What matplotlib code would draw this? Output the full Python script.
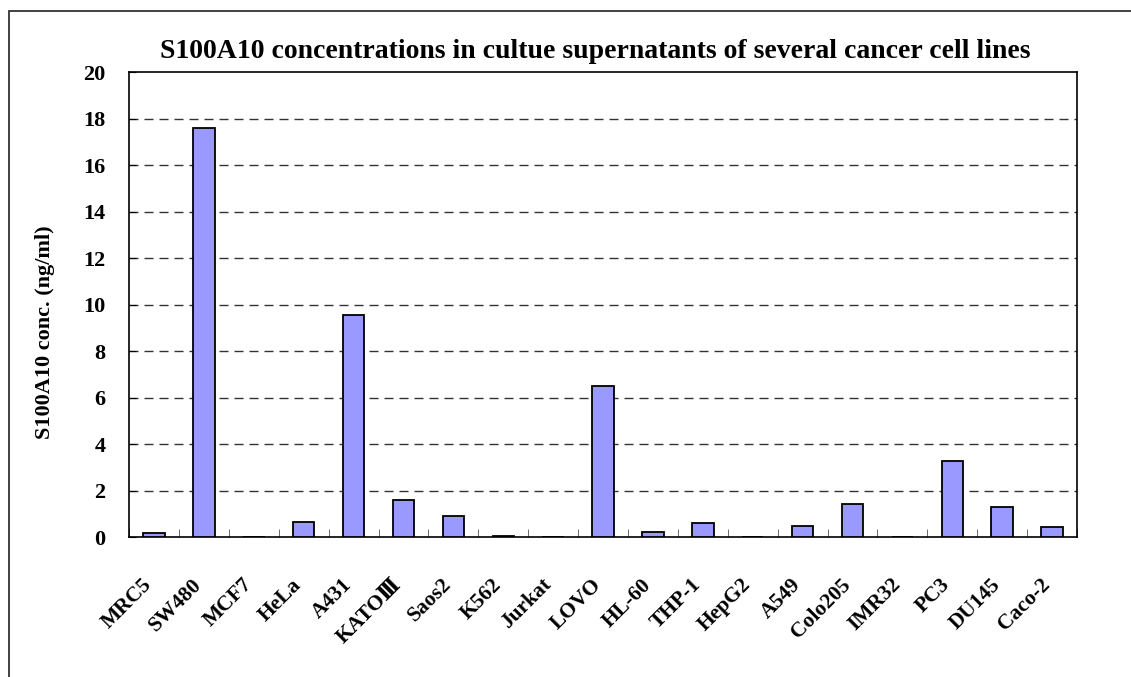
import numpy as np
import matplotlib.pyplot as plt
import matplotlib.transforms as mtransforms
from matplotlib.patches import Rectangle

plt.rcParams['font.family'] = ['Liberation Serif', 'DejaVu Serif']
plt.rcParams['font.weight'] = 'bold'

# data
cell_lines = ["MRC5", "SW480", "MCF7", "HeLa", "A431", "KATOⅢ", "Saos2", "K562",
              "Jurkat", "LOVO", "HL-60", "THP-1", "HepG2", "A549", "Colo205",
              "IMR32", "PC3", "DU145", "Caco-2"]
conc = [0.17, 17.6, 0.0, 0.67, 9.55, 1.6, 0.93, 0.07,
        0.0, 6.52, 0.23, 0.62, 0.0, 0.5, 1.42,
        0.0, 3.3, 1.3, 0.43]
y_ticks = [0, 2, 4, 6, 8, 10, 12, 14, 16, 18, 20]

fig = plt.figure(figsize=(11.31, 6.77), dpi=100)
ax = fig.add_axes([0.1141, 0.2064, 0.8382, 0.6868])

x = np.arange(len(cell_lines))
ax.bar(x, conc, width=0.43, color='#9999FF', edgecolor='black', linewidth=1.3, zorder=3)

ax.set_xlim(-0.5, len(cell_lines) - 0.5)
ax.set_ylim(0, 20)
ax.set_yticks(y_ticks)
ax.set_yticklabels([str(v) for v in y_ticks], fontsize=16, fontweight='bold')
ax.tick_params(axis='y', direction='in', length=5, pad=17)

ax.set_xticks(x)
ax.set_xticklabels(cell_lines, rotation=45, ha='right', rotation_mode='anchor',
                   fontsize=15.5, fontweight='bold')
ax.set_xticks(np.arange(len(cell_lines) + 1) - 0.5, minor=True)
ax.tick_params(axis='x', which='major', length=0, pad=27)
ax.tick_params(axis='x', which='minor', direction='in', length=6, color='#555555')
# shift labels a bit to the left, as in the original
shift = mtransforms.ScaledTranslation(-12 / 100, 0, fig.dpi_scale_trans)
for lab in ax.get_xticklabels():
    lab.set_transform(lab.get_transform() + shift)

# dashed gridlines
for v in y_ticks[1:-1]:
    ax.axhline(v, color='#333333', lw=1.0, ls=(0, (6.5, 4.3)), zorder=1)

for s in ax.spines.values():
    s.set_linewidth(1.2)

fig.text(595 / 1131, 1 - 58 / 677,
         "S100A10 concentrations in cultue supernatants of several cancer cell lines",
         ha='center', va='baseline', fontsize=20, fontweight='bold')
fig.text(45.5 / 1131, 1 - 332 / 677, "S100A10 conc. (ng/ml)", rotation=90,
         ha='center', va='center', fontsize=16, fontweight='bold')

# outer chart frame
fig.patches.append(Rectangle((9 / 1131, -0.1), 1.2, 1 - 10.7 / 677 + 0.1,
                             transform=fig.transFigure, fill=False,
                             edgecolor='#333333', linewidth=1.3))

fig.savefig('out.png', dpi=100)
